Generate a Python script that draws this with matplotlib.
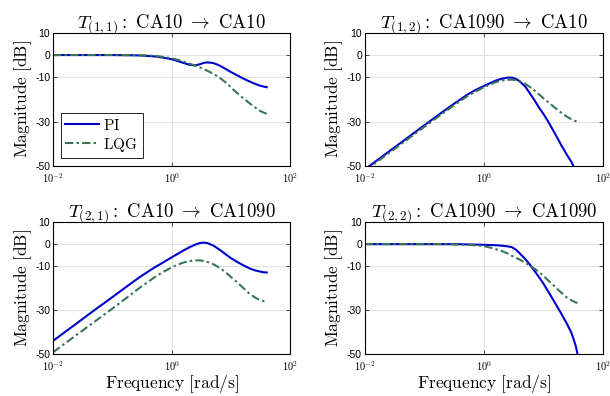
import matplotlib
matplotlib.use("Agg")
import matplotlib.pyplot as plt

plt.rcParams['mathtext.fontset'] = 'cm'
plt.rcParams['font.family'] = ['Liberation Sans', 'DejaVu Sans']

# frequency samples [rad/s]
freq = [0.01, 0.02, 0.05, 0.1, 0.2, 0.3, 0.5, 0.7, 1, 1.3, 1.6, 2, 2.5, 3, 3.5,
        4, 5, 6, 7, 8.5, 10, 12, 15, 20, 25, 30, 35, 40]

# magnitudes [dB]
t11_pi = [0, 0, 0, 0, -0.1, -0.2, -0.6, -1.1, -1.9, -2.8, -3.6, -4.4, -4.7, -4.1, -3.5,
          -3.3, -3.6, -4.4, -5.3, -6.6, -7.7, -8.8, -10.2, -11.8, -12.9, -13.7, -14.2, -14.5]
t11_lqg = [0, 0, 0, 0, 0, -0.1, -0.3, -0.8, -1.5, -2.2, -3.0, -3.9, -4.8, -5.6, -6.4,
           -7.1, -8.4, -9.7, -11.0, -12.8, -14.6, -16.6, -18.8, -21.5, -23.5, -25.0, -25.9, -26.5]

t12_pi = [-51.6, -45.6, -37.7, -31.7, -25.8, -22.4, -18.3, -16.0, -14.0, -12.6, -11.5, -10.7, -10.2, -10.2, -10.8,
          -11.8, -14.2, -17.4, -20.0, -23.7, -26.4, -29.8, -34.4, -40.5, -45.0, -48.3, -52.0, -55.5]
t12_lqg = [-52.3, -46.3, -38.4, -32.4, -26.5, -23.1, -19.0, -16.7, -14.6, -13.2, -12.2, -11.5, -11.2, -11.1, -11.3,
           -11.8, -13.0, -14.4, -15.8, -17.7, -19.4, -21.2, -23.3, -26.0, -27.8, -29.0, -29.8, -30.3]

t21_pi = [-44.0, -38.0, -30.0, -24.1, -18.1, -14.7, -10.8, -8.5, -6.0, -4.2, -2.8, -1.4, -0.2, 0.5, 0.7,
          0.5, -0.6, -2.0, -3.3, -5.0, -6.4, -7.7, -9.2, -10.9, -11.9, -12.4, -12.8, -12.9]
t21_lqg = [-49.2, -43.2, -35.3, -29.3, -23.2, -19.5, -15.3, -12.8, -10.6, -9.2, -8.3, -7.7, -7.4, -7.4, -7.7,
           -8.1, -9.1, -10.3, -11.5, -13.3, -15.0, -16.8, -19.2, -22.3, -24.2, -25.3, -25.9, -26.2]

t22_pi = [0, 0, 0, 0, 0, 0, -0.1, -0.2, -0.3, -0.4, -0.5, -0.7, -1.0, -1.4, -2.6,
          -4.1, -6.8, -9.4, -11.9, -15.0, -17.8, -21.3, -25.7, -31.5, -36.2, -40.5, -46.0, -53.0]
t22_lqg = [0, 0, 0, 0, 0, -0.1, -0.3, -0.5, -0.9, -1.6, -2.3, -3.1, -4.2, -5.4, -6.3,
           -7.0, -8.5, -9.8, -11.0, -12.7, -14.3, -16.4, -18.8, -22.0, -24.3, -25.6, -26.5, -27.0]

titles = [r'$T_{(1,1)}\mathrm{:}\ \mathrm{CA10}\ \rightarrow\ \mathrm{CA10}$',
          r'$T_{(1,2)}\mathrm{:}\ \mathrm{CA1090}\ \rightarrow\ \mathrm{CA10}$',
          r'$T_{(2,1)}\mathrm{:}\ \mathrm{CA10}\ \rightarrow\ \mathrm{CA1090}$',
          r'$T_{(2,2)}\mathrm{:}\ \mathrm{CA1090}\ \rightarrow\ \mathrm{CA1090}$']
pi_data = [t11_pi, t12_pi, t21_pi, t22_pi]
lqg_data = [t11_lqg, t12_lqg, t21_lqg, t22_lqg]

yticks = [10, 0, -10, -30, -50]
ytick_labels = ['10', '0', '-10', '-30', '-50']
xticks = [1e-2, 1e0, 1e2]
xtick_labels = [r'$\mathsf{10^{-2}}$', r'$\mathsf{10^{0}}$', r'$\mathsf{10^{2}}$']

PI_COLOR = '#0000cc'
LQG_COLOR = '#3a7656'

fig = plt.figure(figsize=(6.10, 3.96), dpi=100)
positions = [
    [0.087, 0.581, 0.389, 0.336],
    [0.598, 0.581, 0.390, 0.336],
    [0.087, 0.106, 0.389, 0.333],
    [0.598, 0.106, 0.390, 0.333],
]

for i, pos in enumerate(positions):
    ax = fig.add_axes(pos)
    ax.semilogx(freq, pi_data[i], color=PI_COLOR, lw=1.5, label='PI')
    ax.semilogx(freq, lqg_data[i], color=LQG_COLOR, lw=1.5, ls=(0, (4, 1.5, 1.2, 1.5)),
                label='LQG')
    ax.set_xlim(1e-2, 1e2)
    ax.set_ylim(-50, 10)
    ax.set_yticks(yticks)
    ax.set_yticklabels(ytick_labels)
    ax.set_xticks(xticks)
    ax.set_xticklabels(xtick_labels)
    ax.minorticks_off()
    ax.tick_params(direction='in', top=True, right=True, labelsize=7.5,
                   length=3, width=0.5, pad=2)
    ax.tick_params(axis='x', pad=3.5)
    ax.grid(True, color='#e3e3e3', lw=0.8)
    ax.set_axisbelow(True)
    for sp in ax.spines.values():
        sp.set_linewidth(0.8)
    ax.set_title(titles[i], fontsize=13.5, pad=4)
    ax.set_ylabel(r'$\mathrm{Magnitude\ [dB]}$', fontsize=12.5, labelpad=1)
    if i >= 2:
        ax.set_xlabel(r'$\mathrm{Frequency\ [rad/s]}$', fontsize=12.5, labelpad=0)
    if i == 0:
        leg = ax.legend(loc='lower left', fancybox=False,
                        edgecolor='black', framealpha=1, borderpad=0.3,
                        handlelength=2.2, handletextpad=0.3, labelspacing=0.2,
                        prop={'size': 11})
        leg.get_frame().set_linewidth(0.6)
        for t in leg.get_texts():
            t.set_text(r'$\mathrm{' + t.get_text() + '}$')

fig.savefig('out.png', dpi=100)
